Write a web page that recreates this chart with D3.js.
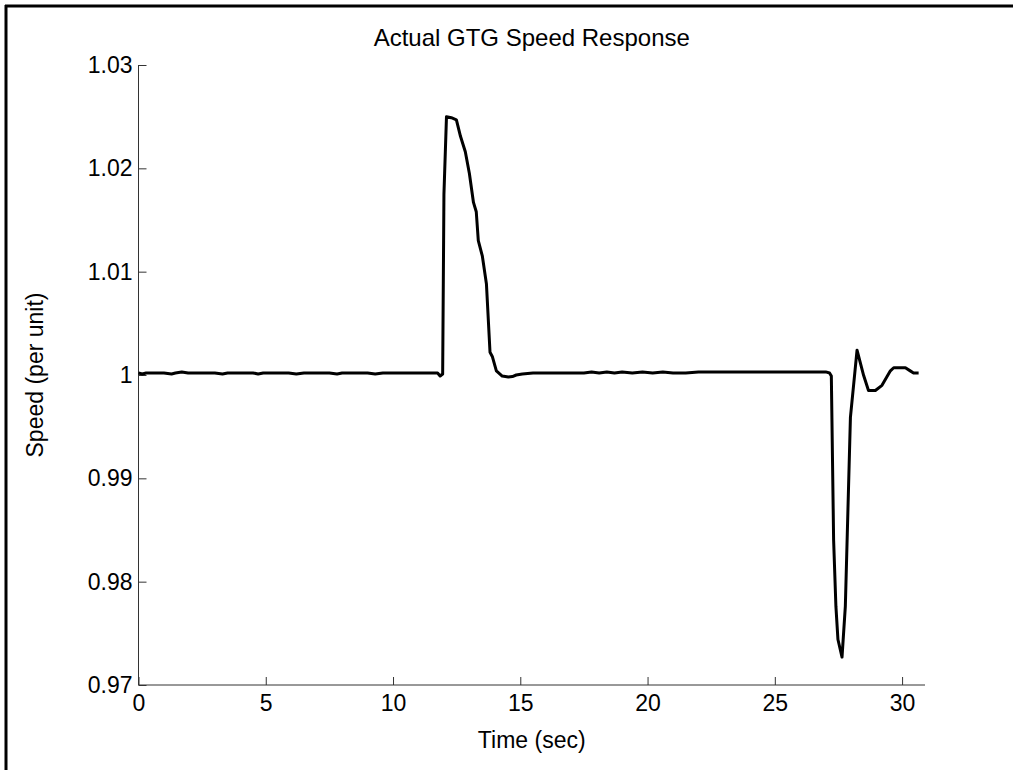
<!DOCTYPE html>
<html>
<head>
<meta charset="utf-8">
<script src="https://cdn.jsdelivr.net/npm/d3@7"></script>
<style>
  html, body { margin: 0; padding: 0; background: #fff; }
  svg { display: block; }
  text { font-family: "Liberation Sans", Arial, Helvetica, sans-serif; fill: #000; }
</style>
</head>
<body>
<svg id="chart" width="1013" height="770"></svg>
<script>
// ---- data ----
const titleText = "Actual GTG Speed Response";
const xLabelText = "Time (sec)";
const yLabelText = "Speed (per unit)";
const xTicks = [0, 5, 10, 15, 20, 25, 30];
const yTicks = [0.97, 0.98, 0.99, 1.0, 1.01, 1.02, 1.03];
const yTickLabels = ["0.97", "0.98", "0.99", "1", "1.01", "1.02", "1.03"];
const xDomain = [0, 30.9];
const yDomain = [0.97, 1.03];

const timeSec = [
  0, 0.15, 0.3, 0.6, 1.0, 1.3, 1.45, 1.7, 1.95, 2.2, 2.6, 3.0, 3.3, 3.5, 4.0, 4.5, 4.7, 4.9, 5.4, 5.9, 6.2, 6.5,
  7.0, 7.5, 7.8, 8.0, 8.5, 9.0, 9.3, 9.6, 10.0, 10.5, 11.0, 11.5, 11.75, 11.85, 11.95, 12.0, 12.1,
  12.29, 12.49, 12.65, 12.84, 13.0, 13.16, 13.27, 13.35, 13.51, 13.67, 13.81, 13.9, 14.06, 14.29,
  14.53, 14.69, 14.84, 15.08, 15.5, 16.5, 17.5, 17.8, 18.1, 18.4, 18.7, 19.0, 19.4, 19.8, 20.2, 20.6,
  21.0, 21.5, 22.0, 23.0, 24.0, 25.0, 26.0, 27.0, 27.15, 27.22, 27.31, 27.40, 27.48, 27.64, 27.77,
  27.97, 28.23, 28.49, 28.68, 28.95, 29.21, 29.54, 29.67, 30.13, 30.32, 30.45, 30.65
];
const speedPu = [
  1.0002, 1.0001, 1.0002, 1.0002, 1.0002, 1.0001, 1.0002, 1.0003, 1.0002, 1.0002, 1.0002, 1.0002, 1.0001, 1.0002, 1.0002, 1.0002, 1.0001, 1.0002, 1.0002, 1.0002, 1.0001, 1.0002,
  1.0002, 1.0002, 1.0001, 1.0002, 1.0002, 1.0002, 1.0001, 1.0002, 1.0002, 1.0002, 1.0002, 1.0002, 1.0002, 0.9999, 1.0001, 1.0175, 1.0250,
  1.0249, 1.0247, 1.0231, 1.0216, 1.0195, 1.0167, 1.0158, 1.0130, 1.0115, 1.0088, 1.0022, 1.0018, 1.0004, 0.9999,
  0.9998, 0.99985, 1.0000, 1.0001, 1.0002, 1.0002, 1.0002, 1.0003, 1.0002, 1.0003, 1.0002, 1.0003, 1.0002, 1.0003, 1.0002, 1.0003,
  1.0002, 1.0002, 1.0003, 1.0003, 1.0003, 1.0003, 1.0003, 1.0003, 1.0002, 0.9999, 0.9840, 0.9776, 0.9744, 0.9727, 0.9776,
  0.9959, 1.0024, 0.99995, 0.9985, 0.9985, 0.9990, 1.0004, 1.0007, 1.0007, 1.0004, 1.0002, 1.0002
];

// ---- layout ----
const svg = d3.select("#chart");
const W = 1013, H = 770;
const plot = { left: 138.5, right: 925, top: 65, bottom: 685 };

const x = d3.scaleLinear().domain(xDomain).range([plot.left, plot.right]);
const y = d3.scaleLinear().domain(yDomain).range([plot.bottom, plot.top]);

// figure border (left and top)
svg.append("line").attr("x1", 6).attr("x2", 6).attr("y1", 5).attr("y2", H)
  .attr("stroke", "#000").attr("stroke-width", 3);
svg.append("line").attr("x1", 5).attr("x2", W).attr("y1", 6).attr("y2", 6)
  .attr("stroke", "#000").attr("stroke-width", 3);

// axes
const fontSize = 23;
const xAxis = d3.axisBottom(x).tickValues(xTicks).tickSize(-8).tickPadding(10).tickFormat(d3.format("d"));
const gx = svg.append("g").attr("transform", `translate(0,${plot.bottom})`).call(xAxis);
gx.select(".domain").attr("stroke", "#333").attr("d", `M${plot.left},0H${plot.right}`);
gx.selectAll(".tick line").attr("stroke", "#333");
gx.selectAll(".tick text").attr("font-size", fontSize).attr("font-family", "Liberation Sans, Arial, sans-serif").attr("fill", "#000");

const yAxis = d3.axisLeft(y).tickValues(yTicks).tickSize(-8).tickPadding(6)
  .tickFormat((d, i) => yTickLabels[i]);
const gy = svg.append("g").attr("transform", `translate(${plot.left},0)`).call(yAxis);
gy.select(".domain").attr("stroke", "#333").attr("d", `M0,${plot.bottom}V${plot.top}`);
gy.selectAll(".tick line").attr("stroke", "#333");
gy.selectAll(".tick text").attr("font-size", fontSize).attr("font-family", "Liberation Sans, Arial, sans-serif").attr("fill", "#000");

// line
const line = d3.line().x((d, i) => x(timeSec[i])).y(d => y(d));
svg.append("path").datum(speedPu).attr("d", line)
  .attr("fill", "none").attr("stroke", "#000").attr("stroke-width", 3)
  .attr("stroke-linejoin", "round");

// title and labels
svg.append("text").attr("x", (plot.left + plot.right) / 2).attr("y", 46)
  .attr("text-anchor", "middle").attr("font-size", 24).text(titleText);
svg.append("text").attr("x", (plot.left + plot.right) / 2).attr("y", 748)
  .attr("text-anchor", "middle").attr("font-size", fontSize).text(xLabelText);
svg.append("text").attr("transform", `translate(43,${(plot.top + plot.bottom) / 2}) rotate(-90)`)
  .attr("text-anchor", "middle").attr("font-size", fontSize).text(yLabelText);
</script>
</body>
</html>
